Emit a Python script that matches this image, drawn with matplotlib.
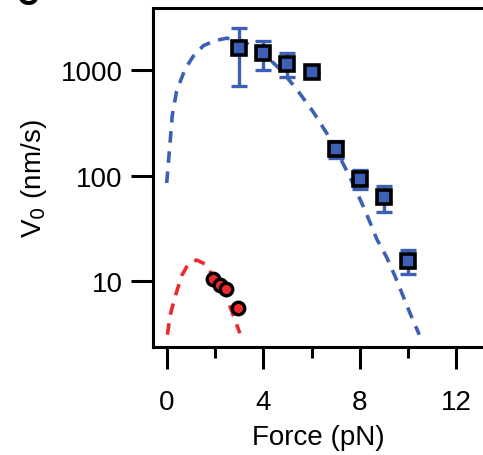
import matplotlib
matplotlib.use("Agg")
import matplotlib.pyplot as plt

plt.rcParams['font.family'] = ['Liberation Sans', 'DejaVu Sans']

# blue squares: force (pN), V0 (nm/s), error bar ends
blue_force = [3, 4, 5, 6, 7, 8, 9, 10]
blue_v0 = [1600, 1440, 1140, 950, 178, 93, 62, 15.6]
blue_hi = [2500, 1870, 1450, 950, 214, 113, 80, 19.7]
blue_lo = [700, 1007, 864, 950, 146, 75, 45, 11.6]

# red circles
red_force = [1.9, 2.2, 2.45, 2.95]
red_v0 = [10.4, 9.2, 8.4, 5.6]

# dashed model curves
blue_fit_x = [0.0, 0.14, 0.23, 0.41, 0.76, 1.1, 1.52, 2.0, 2.48, 3.1, 3.73, 4.2,
              4.69, 5.38, 6.07, 6.76, 7.31, 7.66, 8.14, 8.42, 8.70, 9.11, 9.45,
              9.73, 10.07, 10.46]
blue_fit_y = [85, 205, 370, 630, 1020, 1350, 1700, 1900, 2000, 1900, 1590, 1300,
              1020, 660, 400, 225, 129, 89, 51, 36, 25, 16.8, 11.2,
              7.8, 5.0, 3.1]
red_fit_x = [0.03, 0.14, 0.34, 0.62, 0.89, 1.24, 1.59, 2.0, 2.41, 2.69, 3.03]
red_fit_y = [3.1, 4.7, 7.0, 11.2, 14.5, 15.8, 14.5, 10.5, 8.1, 5.2, 3.2]

blue = '#3d60b4'
red = '#ec2a2e'

fig = plt.figure(figsize=(4.83, 4.56), dpi=100)
ax = fig.add_axes([153 / 483, 1 - 348 / 456, 1 - 153 / 483, (348 - 8.5) / 456])

ax.plot(blue_fit_x, blue_fit_y, color=blue, lw=2.6, ls=(0, (3.2, 2.4)))
ax.plot(red_fit_x, red_fit_y, color=red, lw=2.6, ls=(0, (3.2, 2.4)))

err_lo = [v - l for v, l in zip(blue_v0, blue_lo)]
err_hi = [h - v for v, h in zip(blue_v0, blue_hi)]
ax.errorbar(blue_force, blue_v0, yerr=[err_lo, err_hi], fmt='none',
            ecolor=blue, elinewidth=2.4, capsize=5.5, capthick=2.4, zorder=3)
ax.plot(blue_force, blue_v0, 's', ms=10.5, mfc=blue, mec='black', mew=2.6,
        ls='none', zorder=4)
ax.plot(red_force, red_v0, 'o', ms=9, mfc=red, mec='black', mew=2.4,
        ls='none', zorder=4)

ax.set_yscale('log')
ax.set_ylim(2.37, 3910)
ax.set_xlim(-0.567, 13.1)
ax.set_yticks([10, 100, 1000])
ax.set_yticklabels(['10', '100', '1000'])
ax.minorticks_off()
ax.set_xticks([0, 4, 8, 12])
ax.set_xticks([2, 6, 10], minor=True)

for s in ['left', 'bottom', 'top']:
    ax.spines[s].set_linewidth(2.2)
ax.spines['right'].set_visible(False)
ax.tick_params(axis='both', which='major', length=16, width=2.2,
               labelsize=20, pad=6)
ax.tick_params(axis='x', which='minor', length=8, width=2.2)
ax.tick_params(axis='x', which='major', pad=14)

ax.set_xlabel('Force (pN)', fontsize=20, labelpad=7)
ax.set_ylabel('V$_0$ (nm/s)', fontsize=20, labelpad=8)

fig.text(0.058, 1.006, 'C', fontsize=22, fontweight='bold', ha='center', va='center')

fig.savefig('out.png', dpi=100)
